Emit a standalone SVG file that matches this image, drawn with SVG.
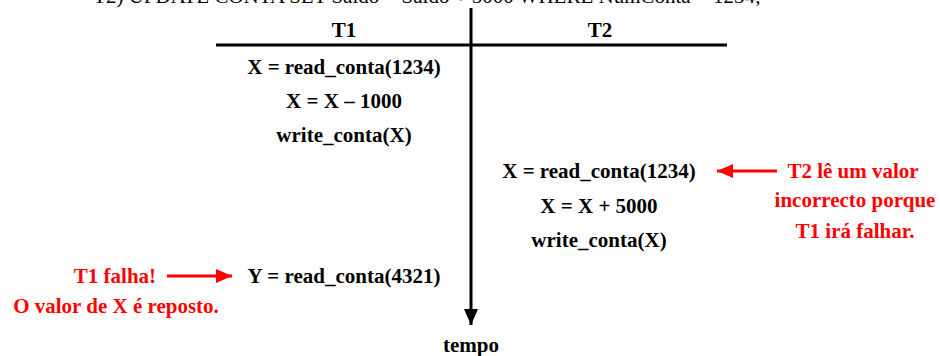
<svg xmlns="http://www.w3.org/2000/svg" width="940" height="356" viewBox="0 0 940 356">
<style>
text{font-family:"Liberation Serif","Times New Roman",serif;font-weight:bold;font-size:21px;text-anchor:middle;fill:#000}
.red{fill:#ff0000}
.title{font-weight:normal;font-size:21px}
.ln{stroke:#000;stroke-width:3;fill:none}
.rl{stroke:#ff0000;stroke-width:3;fill:none}
</style>
<defs>
<marker id="ab" viewBox="0 0 16 14" refX="16" refY="7" markerWidth="16" markerHeight="14" markerUnits="userSpaceOnUse" orient="auto"><path d="M0,0 L16,7 L0,14 z" fill="#000"/></marker>
<marker id="ar" viewBox="0 0 16 14" refX="16" refY="7" markerWidth="16" markerHeight="14" markerUnits="userSpaceOnUse" orient="auto"><path d="M0,0 L16,7 L0,14 z" fill="#ff0000"/></marker>
</defs>
<rect width="940" height="356" fill="#fff"/>
<g id="title"><text class="title" x="427" y="3">T2) UPDATE CONTA SET Saldo = Saldo + 5000 WHERE NumConta = 1234;</text></g>
<g id="connectors">
<line class="ln" x1="216" y1="45" x2="727" y2="45"/>
<line class="ln" x1="471" y1="8" x2="471" y2="325" marker-end="url(#ab)"/>
<line class="rl" x1="167" y1="276" x2="232" y2="276" marker-end="url(#ar)"/>
<line class="rl" x1="777" y1="171" x2="717" y2="171" marker-end="url(#ar)"/>
</g>
<g id="hdr-t1"><text x="344" y="37">T1</text></g>
<g id="hdr-t2"><text x="600" y="37">T2</text></g>
<g id="t1-read"><text x="344" y="74">X = read_conta(1234)</text></g>
<g id="t1-calc"><text x="344" y="108">X = X – 1000</text></g>
<g id="t1-write"><text x="344" y="142">write_conta(X)</text></g>
<g id="t2-read"><text x="599" y="178">X = read_conta(1234)</text></g>
<g id="t2-calc"><text x="599" y="213">X = X + 5000</text></g>
<g id="t2-write"><text x="599" y="247">write_conta(X)</text></g>
<g id="t1-read2"><text x="344" y="283">Y = read_conta(4321)</text></g>
<g id="note-fail"><text class="red" x="115" y="283">T1 falha!</text><text class="red" x="116" y="313">O valor de X é reposto.</text></g>
<g id="note-t2"><text class="red" x="853" y="178">T2 lê um valor</text><text class="red" x="855" y="207">incorrecto porque</text><text class="red" x="855" y="238">T1 irá falhar.</text></g>
<g id="tempo"><text x="471" y="352">tempo</text></g>
</svg>
